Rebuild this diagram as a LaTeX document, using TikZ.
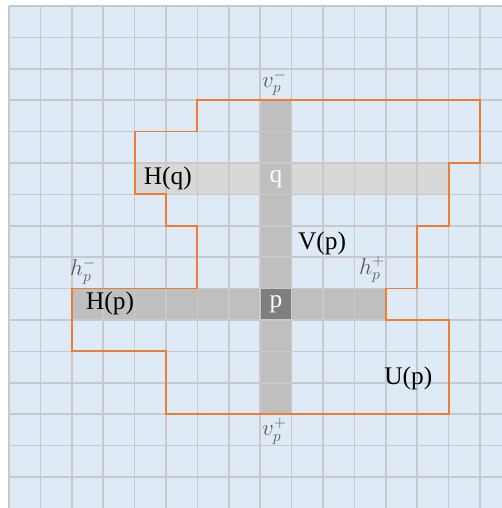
\documentclass[tikz,border=0pt]{standalone}
\usepackage{fontspec}
\setmainfont{Liberation Serif}
\usetikzlibrary{positioning}

\definecolor{paper}{HTML}{DEEAF6}
\definecolor{gridgray}{HTML}{C9C9C9}
\definecolor{bargray}{HTML}{BFBFBF}
\definecolor{rowgray}{HTML}{D8D8D8}
\definecolor{pixgray}{HTML}{7F7F7F}
\definecolor{outline}{HTML}{ED7D31}

\begin{document}
\begin{tikzpicture}[
      x=1cm, y=-1cm,
      cellgrid/.style={draw=gridgray, line width=1.4pt},
      boundary/.style={draw=outline, line width=1.7pt},
      label/.style={font=\fontsize{23}{27}\selectfont, text=black, inner sep=0pt},
      pixlabel/.style={font=\fontsize{23}{27}\selectfont, text=white, inner sep=0pt},
      endlabel/.style={font=\fontsize{21}{24}\selectfont, text=black!65, inner sep=0pt}
    ]

    \useasboundingbox (-0.287,-0.19) rectangle (15.70,15.99);
    \fill[paper] (0,0) rectangle (15.70,15.99);

    % rows and column through p and q
    \fill[rowgray] (4,5) rectangle (14,6);
    \fill[bargray] (2,9) rectangle (12,10);
    \fill[bargray] (8,3) rectangle (9,13);
    \fill[pixgray] (8,9) rectangle (9,10);

    \draw[cellgrid] (0,0) grid (15.70,15.99);

    % neighbourhood U(p)
    \draw[boundary] (6,3) -- (15,3) -- (15,5) -- (14,5) -- (14,7) -- (13,7)
      -- (13,9) -- (12,9) -- (12,10) -- (14,10) -- (14,13) -- (5,13)
      -- (5,11) -- (2,11) -- (2,9) -- (6,9) -- (6,7) -- (5,7) -- (5,6)
      -- (4,6) -- (4,4) -- (6,4) -- cycle;

    \node[pixlabel] (p) at (8.5,9.5) {p};
    \node[pixlabel] (q) at (8.5,5.5) {q};
    \node[label] (Hq) at (5.06,5.5) {H(q)};
    \node[label] (Hp) at (3.22,9.48) {H(p)};
    \node[label] (Vp) at (9.97,7.55) {V(p)};
    \node[label] (Up) at (12.72,11.85) {U(p)};

    \node[endlabel] (vminus) at (8.45,2.45) {$v_p^-$};
    \node[endlabel] (vplus) at (8.45,13.55) {$v_p^+$};
    \node[endlabel] (hminus) at (2.36,8.45) {$h_p^-$};
    \node[endlabel] (hplus) at (11.56,8.4) {$h_p^+$};
  \end{tikzpicture}
\end{document}
